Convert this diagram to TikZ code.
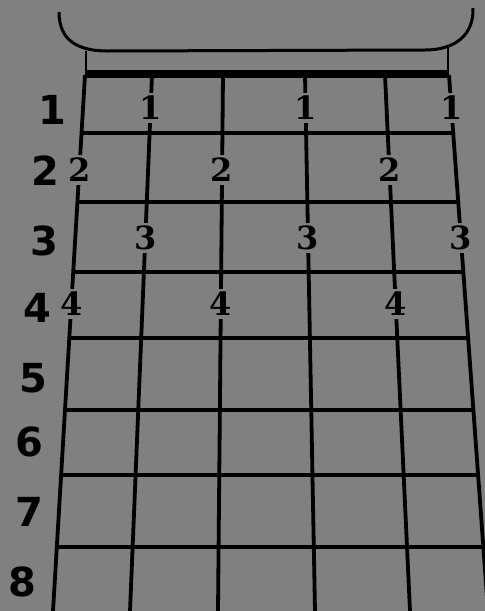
\documentclass[tikz,border=0pt]{standalone}
\usepackage{fontspec}
\setmainfont{DejaVu Serif}
\setsansfont{DejaVu Sans}
\usepackage{xcolor}
\usetikzlibrary{calc}
\definecolor{fundo}{RGB}{128,128,128}
\tikzset{
    corda/.style={line width=1.9pt},
    traste/.style={line width=1.8pt},
    pestana/.style={line width=4pt},
    capa/.style={line width=1.5pt},
    casa/.style={
        font=\sffamily\bfseries\fontsize{20}{20}\selectfont,
        inner sep=0pt
    },
    dedo/.style={
        font=\bfseries\fontsize{16}{16}\selectfont,
        fill=fundo,
        inner sep=1.5pt
    }
}

\begin{document}
\begin{tikzpicture}[x=0.5pt, y=-0.5pt]
        \fill[fundo] (0,0) rectangle (485,611);
        \useasboundingbox (0,0) rectangle (485,611);

        % cordas (topo na pestana, base na borda)
        \coordinate (topo1) at (85,75);  \coordinate (base1) at (53,611);
        \coordinate (topo2) at (152,75); \coordinate (base2) at (130,611);
        \coordinate (topo3) at (223,75); \coordinate (base3) at (218,611);
        \coordinate (topo4) at (305,75); \coordinate (base4) at (315,611);
        \coordinate (topo5) at (385,75); \coordinate (base5) at (410,611);
        \coordinate (topo6) at (449,75); \coordinate (base6) at (488,611);
        \foreach \c in {1,...,6}
            \draw[corda] (topo\c) -- (base\c);

        % trastes
        \foreach \y in {133,202,272,338,410,475,547}
            \draw[traste] ($(topo1)!{(\y-75)/536}!(base1)$)
                -- ($(topo6)!{(\y-75)/536}!(base6)$);

        % pestana e capa
        \draw[pestana] (85,74) -- (449,74);
        \draw[line width=1pt] (86,51) -- (86,72);
        \draw[line width=1pt] (448,47) -- (448,72);
        \draw[capa] (59,12) .. controls (59,42) and (80,51) .. (108,51)
            -- (425,50) .. controls (455,50) and (474,35) .. (473,8);

        % numeros das casas
        \node[casa] (casa1) at (52,110) {1};
        \node[casa] (casa2) at (45,171) {2};
        \node[casa] (casa3) at (44,241) {3};
        \node[casa] (casa4) at (37,308) {4};
        \node[casa] (casa5) at (33,378) {5};
        \node[casa] (casa6) at (29,442) {6};
        \node[casa] (casa7) at (29,512) {7};
        \node[casa] (casa8) at (22,582) {8};

        % dedos sobre as cordas
        \foreach \c/\y/\d in {2/108/1, 4/108/1, 6/108/1,
                              1/170/2, 3/170/2, 5/170/2,
                              2/238/3, 4/238/3, 6/238/3,
                              1/304/4, 3/304/4, 5/304/4}
            \node[dedo] (dedo\c-\d) at ($(topo\c)!{(\y-75)/536}!(base\c)$) {\d};
    \end{tikzpicture}
\end{document}
